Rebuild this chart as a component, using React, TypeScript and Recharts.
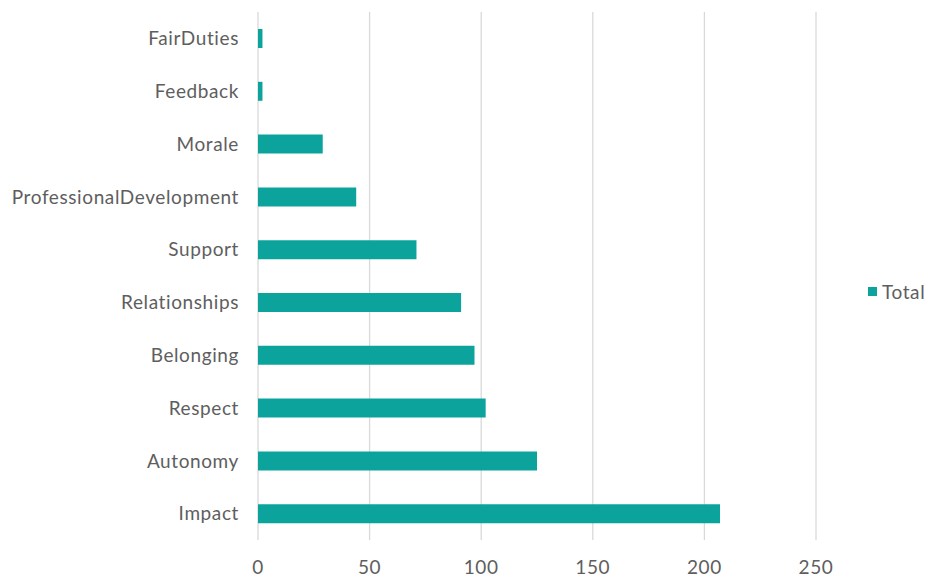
import React from 'react';
import { BarChart, Bar, XAxis, YAxis, CartesianGrid, Legend } from 'recharts';

const categories = [
  'FairDuties',
  'Feedback',
  'Morale',
  'ProfessionalDevelopment',
  'Support',
  'Relationships',
  'Belonging',
  'Respect',
  'Autonomy',
  'Impact',
];
const totals = [2, 2, 29, 44, 71, 91, 97, 102, 125, 207];
const xTicks = [0, 50, 100, 150, 200, 250];

const data = categories.map((name, i) => ({ name, Total: totals[i] }));

const FONT = 'Lato, "Open Sans", sans-serif';
const TEXT = '#5e5e5e';
const TEAL = '#0ca39d';

const LegendContent = () => (
  <div style={{ display: 'flex', alignItems: 'center', fontFamily: FONT, fontSize: 19, color: TEXT, letterSpacing: 0.6 }}>
    <span style={{ display: 'inline-block', width: 9, height: 9, background: TEAL, marginRight: 5 }} />
    <span>Total</span>
  </div>
);

const App: React.FC = () => {
  return (
    <div style={{ position: 'absolute', left: 0, top: 0, width: 928, height: 578, background: '#fff' }}>
      <BarChart
        width={928}
        height={578}
        data={data}
        layout="vertical"
        margin={{ top: 12, right: 112, bottom: 0, left: 0 }}
      >
        <CartesianGrid horizontal={false} stroke="#d9d9d9" strokeWidth={1.3} />
        <XAxis
          type="number"
          domain={[0, 250]}
          ticks={xTicks}
          axisLine={false}
          tickLine={false}
          tickSize={0}
          tickMargin={21}
          height={38}
          tick={{ fill: TEXT, fontSize: 19, fontFamily: FONT, letterSpacing: 0.6 }}
        />
        <YAxis
          type="category"
          dataKey="name"
          width={258}
          axisLine={false}
          tickLine={false}
          tickSize={0}
          tickMargin={19}
          interval={0}
          tick={{ fill: TEXT, fontSize: 19, fontFamily: FONT, letterSpacing: 0.6 }}
        />
        <Legend
          layout="horizontal"
          verticalAlign="middle"
          align="center"
          content={<LegendContent />}
          wrapperStyle={{ left: 868, top: 280, width: 70 }}
        />
        <Bar dataKey="Total" fill={TEAL} barSize={19} isAnimationActive={false} />
      </BarChart>
    </div>
  );
};

export default App;
